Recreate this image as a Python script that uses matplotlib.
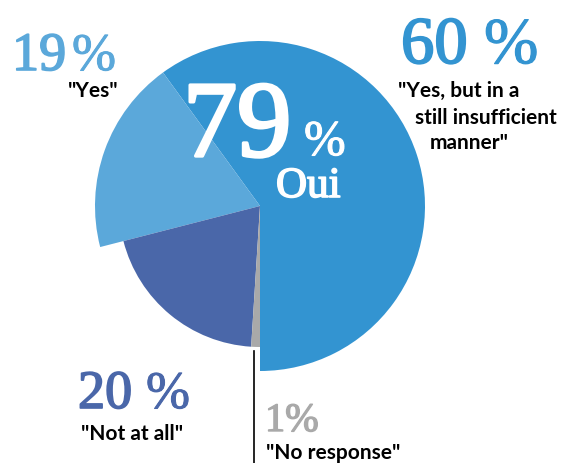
import matplotlib
matplotlib.use("Agg")
import matplotlib.pyplot as plt
import matplotlib.patheffects as pe

# Data
labels = ['"Yes, but in a', 'still insufficient', 'manner"', '"Yes"', '"Not at all"', '"No response"']
values = [60, 19, 20, 1]
colors = ['#3394D1', '#5BA8DA', '#4A67A9', '#A9A9A9']
pct_numbers = ['60', '19', '20', '1']
total_yes = '79'
total_label = 'Oui'

W, H = 568, 464
fig = plt.figure(figsize=(W / 100, H / 100), dpi=100)
ax = fig.add_axes([0, 0, 1, 1])

cx, cy = 260, H - 207
wedges, _ = ax.pie(values, colors=colors, startangle=-90, counterclock=True,
                   radius=165, center=(cx, cy), frame=True)
ax.set_xlim(0, W)
ax.set_ylim(0, H)
ax.axis('off')
ax.set_aspect('equal')
for w in wedges[2:]:
    w.set_radius(141)

def Y(py):
    return H - py

num_font = 'Liberation Serif'
lab_font = 'Lato'

def thick(color, lw):
    return [pe.withStroke(linewidth=lw, foreground=color)]

# leader line for 1%
ax.plot([254, 254], [Y(352), Y(464)], color='black', lw=1.2)

# big 79 % Oui
ax.text(183, Y(157), total_yes, color='white', fontsize=78, family=num_font,
        ha='left', va='baseline', path_effects=thick('white', 2.4))
ax.text(304, Y(156), '%', color='white', fontsize=36, family=num_font,
        ha='left', va='baseline', path_effects=thick('white', 0.8))
ax.text(276, Y(198), total_label, color='white', fontsize=31, family=num_font,
        ha='left', va='baseline', path_effects=thick('white', 1.2))

def pct(x_num, x_pct, base, size, psize, color, num, lw):
    ax.text(x_num, Y(base), num, color=color, fontsize=size, family=num_font,
            ha='left', va='baseline', path_effects=thick(color, lw))
    ax.text(x_pct, Y(base), '%', color=color, fontsize=psize, family=num_font,
            ha='left', va='baseline', path_effects=thick(color, lw * 0.6))

# 60 %
pct(401, 484, 64, 48, 47, colors[0], pct_numbers[0], 1.4)
ax.text(398, Y(97), labels[0], color='black', fontsize=15, family=lab_font,
        fontweight='bold', ha='left', va='baseline')
ax.text(415, Y(124), labels[1], color='black', fontsize=15, family=lab_font,
        fontweight='bold', ha='left', va='baseline')
ax.text(430, Y(149), labels[2], color='black', fontsize=15, family=lab_font,
        fontweight='bold', ha='left', va='baseline')

# 19 %
pct(12, 72, 71, 39, 38, colors[1], pct_numbers[1], 1.2)
ax.text(68, Y(97), labels[3], color='black', fontsize=15, family=lab_font,
        fontweight='bold', ha='left', va='baseline')

# 20 %
pct(78, 146, 409, 39, 38, colors[2], pct_numbers[2], 1.2)
ax.text(81, Y(440), labels[4], color='black', fontsize=15, family=lab_font,
        fontweight='bold', ha='left', va='baseline')

# 1%
ax.text(265, Y(432), pct_numbers[3] + '%', color=colors[3], fontsize=29,
        family=num_font, ha='left', va='baseline', path_effects=thick(colors[3], 1.0))
ax.text(266, Y(459), labels[5], color='black', fontsize=15, family=lab_font,
        fontweight='bold', ha='left', va='baseline')

fig.savefig('out.png', dpi=100)
